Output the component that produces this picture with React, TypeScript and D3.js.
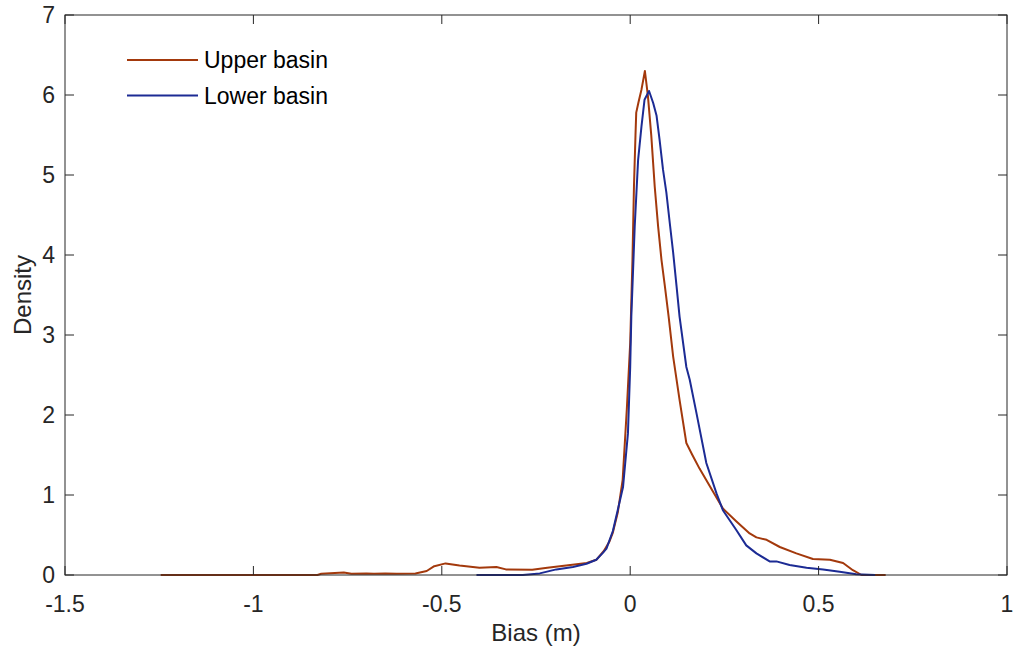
import React from "react";
import * as d3 from "d3";

const xTicks = [-1.5, -1, -0.5, 0, 0.5, 1];
const yTicks = [0, 1, 2, 3, 4, 5, 6, 7];

const upperX = [-1.246, -0.83, -0.82, -0.76, -0.74, -0.70, -0.68, -0.65, -0.62, -0.57, -0.54, -0.52, -0.49, -0.453, -0.40, -0.355, -0.33, -0.26, -0.22, -0.17, -0.115, -0.09, -0.07, -0.055, -0.046, -0.033, -0.02, -0.009, 0.0, 0.006, 0.01, 0.014, 0.016, 0.022, 0.03, 0.039, 0.047, 0.056, 0.065, 0.074, 0.083, 0.092, 0.102, 0.114, 0.131, 0.149, 0.165, 0.184, 0.22, 0.246, 0.282, 0.317, 0.335, 0.362, 0.397, 0.441, 0.485, 0.53, 0.565, 0.591, 0.614, 0.678];
const upperY = [0, 0, 0.015, 0.03, 0.015, 0.02, 0.015, 0.02, 0.015, 0.02, 0.05, 0.11, 0.145, 0.12, 0.09, 0.10, 0.07, 0.065, 0.09, 0.12, 0.15, 0.19, 0.3, 0.42, 0.53, 0.78, 1.19, 2.07, 2.9, 3.94, 4.86, 5.49, 5.78, 5.91, 6.07, 6.30, 5.99, 5.49, 4.86, 4.36, 3.94, 3.61, 3.23, 2.73, 2.19, 1.65, 1.5, 1.33, 1.04, 0.83, 0.67, 0.52, 0.47, 0.44, 0.35, 0.27, 0.2, 0.19, 0.15, 0.06, 0, 0];

const lowerX = [-0.408, -0.285, -0.24, -0.196, -0.152, -0.116, -0.09, -0.072, -0.063, -0.046, -0.037, -0.019, -0.006, 0.0, 0.003, 0.012, 0.021, 0.03, 0.038, 0.05, 0.061, 0.07, 0.078, 0.087, 0.096, 0.105, 0.114, 0.123, 0.131, 0.149, 0.158, 0.176, 0.202, 0.229, 0.246, 0.282, 0.308, 0.335, 0.37, 0.388, 0.423, 0.468, 0.512, 0.556, 0.60, 0.65];
const lowerY = [0, 0, 0.02, 0.07, 0.10, 0.14, 0.19, 0.28, 0.33, 0.55, 0.73, 1.1, 1.77, 2.6, 3.23, 4.36, 5.19, 5.61, 5.94, 6.05, 5.9, 5.74, 5.44, 5.07, 4.78, 4.4, 4.03, 3.61, 3.23, 2.6, 2.44, 2.02, 1.4, 1.02, 0.81, 0.56, 0.37, 0.27, 0.17, 0.17, 0.125, 0.09, 0.07, 0.04, 0.01, 0];

const seriesNames = ["Upper basin", "Lower basin"];
const seriesColors = ["#A3390C", "#1C2B94"];

export default function App() {
  const W = 1015, H = 652;
  const left = 65, right = 1007, top = 15, bottom = 575;
  const x = d3.scaleLinear().domain([-1.5, 1]).range([left, right]);
  const y = d3.scaleLinear().domain([0, 7]).range([bottom, top]);
  const line = d3.line<[number, number]>().x(d => x(d[0])).y(d => y(d[1]));
  const upper = upperX.map((v, i) => [v, upperY[i]] as [number, number]);
  const lower = lowerX.map((v, i) => [v, lowerY[i]] as [number, number]);
  const axisColor = "#262626";
  const font = "Arial, 'Liberation Sans', sans-serif";
  const tl = 9;
  return (
    <svg width={W} height={H} style={{ position: "absolute", left: 0, top: 0, background: "#fff" }}>
      <rect x={0} y={0} width={W} height={H} fill="#fff" />
      <path d={line(upper) || ""} fill="none" stroke={seriesColors[0]} strokeWidth={2} strokeLinejoin="round" />
      <path d={line(lower) || ""} fill="none" stroke={seriesColors[1]} strokeWidth={2} strokeLinejoin="round" />
      <rect x={left} y={top} width={right - left} height={bottom - top} fill="none" stroke={axisColor} strokeWidth={1} />
      {xTicks.map(t => (
        <g key={"x" + t}>
          <line x1={x(t)} x2={x(t)} y1={bottom} y2={bottom - tl} stroke={axisColor} />
          <line x1={x(t)} x2={x(t)} y1={top} y2={top + tl} stroke={axisColor} />
          <text x={x(t)} y={612} textAnchor="middle" fontFamily={font} fontSize={23} fill={axisColor}>{t}</text>
        </g>
      ))}
      {yTicks.map(t => (
        <g key={"y" + t}>
          <line x1={left} x2={left + tl} y1={y(t)} y2={y(t)} stroke={axisColor} />
          <line x1={right} x2={right - tl} y1={y(t)} y2={y(t)} stroke={axisColor} />
          <text x={left - 10} y={y(t) + 8} textAnchor="end" fontFamily={font} fontSize={23} fill={axisColor}>{t}</text>
        </g>
      ))}
      <text x={x(-0.25)} y={641} textAnchor="middle" fontFamily={font} fontSize={24} fill={axisColor}>Bias (m)</text>
      <text transform={`translate(31,${y(3.5)}) rotate(-90)`} textAnchor="middle" fontFamily={font} fontSize={24} fill={axisColor}>Density</text>
      {seriesNames.map((n, i) => (
        <g key={n}>
          <line x1={127} x2={198} y1={60 + i * 35.5} y2={60 + i * 35.5} stroke={seriesColors[i]} strokeWidth={2} />
          <text x={204} y={68 + i * 35.5} fontFamily={font} fontSize={23} fill="#000">{n}</text>
        </g>
      ))}
    </svg>
  );
}
